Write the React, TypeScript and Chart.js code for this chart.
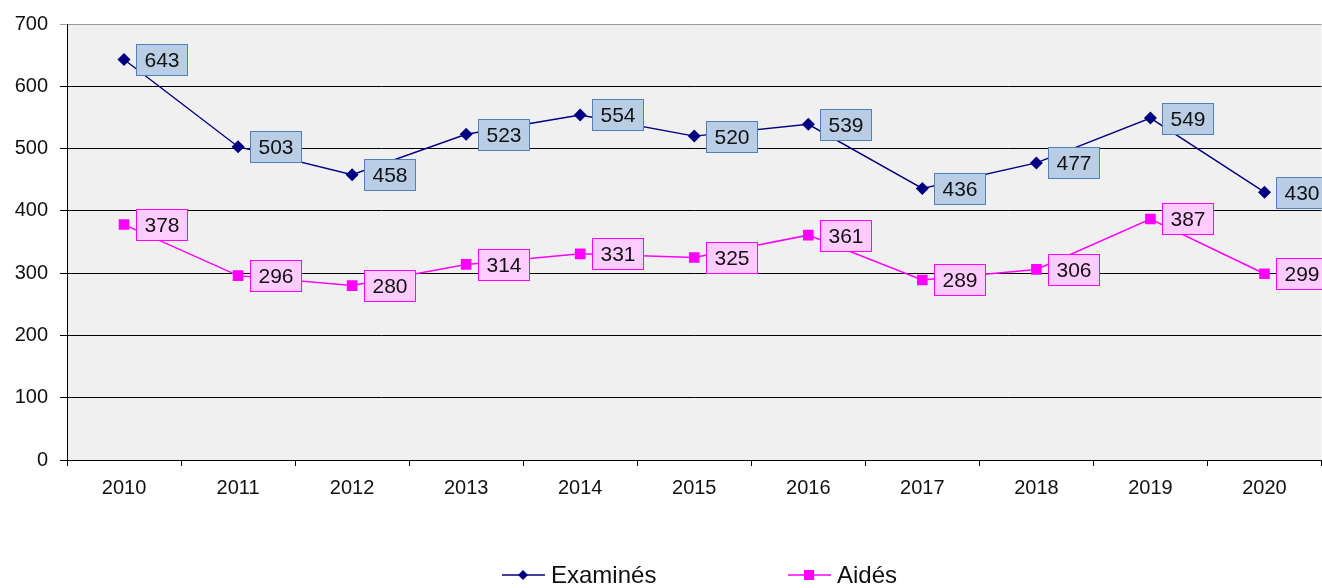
import React, { useEffect, useRef } from 'react';
import { Chart, registerables } from 'chart.js';
Chart.register(...registerables);

const years = ['2010', '2011', '2012', '2013', '2014', '2015', '2016', '2017', '2018', '2019', '2020'];
const examines = [643, 503, 458, 523, 554, 520, 539, 436, 477, 549, 430];
const aides = [378, 296, 280, 314, 331, 325, 361, 289, 306, 387, 299];
const seriesNames = ['Examinés', 'Aidés'];

const FONT = '"Liberation Sans", Arial, sans-serif';
const NAVY = '#000080';
const MAGENTA = '#ff00ff';
const labelStyles = [
  { fill: '#b9cde5', border: '#4f81bd' },
  { fill: '#ffccff', border: '#ff00ff' },
];

const bgPlugin = {
  id: 'plotBg',
  beforeDraw(chart: any) {
    const { ctx, chartArea } = chart;
    ctx.save();
    ctx.fillStyle = '#f0f0f0';
    ctx.fillRect(chartArea.left, chartArea.top, chartArea.right - chartArea.left, chartArea.bottom - chartArea.top);
    ctx.restore();
  },
};

const boxLabelPlugin = {
  id: 'boxLabels',
  afterDatasetsDraw(chart: any) {
    const ctx = chart.ctx;
    ctx.save();
    ctx.font = `21px ${FONT}`;
    chart.data.datasets.forEach((ds: any, i: number) => {
      const meta = chart.getDatasetMeta(i);
      const st = labelStyles[i];
      meta.data.forEach((pt: any, j: number) => {
        const txt = String(ds.data[j]);
        const w = Math.round(ctx.measureText(txt).width + 16);
        const h = 31;
        const x0 = Math.round(pt.x + 12) + 0.5;
        const y0 = Math.round(pt.y - h / 2) + 0.5;
        ctx.fillStyle = st.fill;
        ctx.fillRect(x0, y0, w, h);
        ctx.strokeStyle = st.border;
        ctx.lineWidth = 1;
        ctx.strokeRect(x0, y0, w, h);
        ctx.fillStyle = '#111';
        ctx.textAlign = 'center';
        ctx.textBaseline = 'middle';
        ctx.fillText(txt, x0 + w / 2, y0 + h / 2 + 1);
      });
    });
    ctx.restore();
  },
};

const legendPlugin = {
  id: 'customLegend',
  afterDraw(chart: any) {
    const ctx = chart.ctx;
    const y = 575;
    const items = [
      { x: 502, color: NAVY, shape: 'diamond', text: seriesNames[0] },
      { x: 788, color: MAGENTA, shape: 'square', text: seriesNames[1] },
    ];
    ctx.save();
    items.forEach((it) => {
      ctx.strokeStyle = it.color;
      ctx.lineWidth = 1.5;
      ctx.beginPath();
      ctx.moveTo(it.x, y);
      ctx.lineTo(it.x + 43, y);
      ctx.stroke();
      const cx = it.x + 21;
      ctx.fillStyle = it.color;
      if (it.shape === 'diamond') {
        ctx.beginPath();
        ctx.moveTo(cx, y - 5);
        ctx.lineTo(cx + 5, y);
        ctx.lineTo(cx, y + 5);
        ctx.lineTo(cx - 5, y);
        ctx.closePath();
        ctx.fill();
      } else {
        ctx.fillRect(cx - 5, y - 5, 10, 10);
      }
      ctx.fillStyle = '#111';
      ctx.font = `24px ${FONT}`;
      ctx.textAlign = 'left';
      ctx.textBaseline = 'middle';
      ctx.fillText(it.text, it.x + 49, y + 1);
    });
    ctx.restore();
  },
};

export default function App() {
  const ref = useRef<HTMLCanvasElement>(null);
  useEffect(() => {
    if (!ref.current) return;
    const chart = new Chart(ref.current, {
      type: 'line',
      data: {
        labels: years,
        datasets: [
          {
            label: seriesNames[0],
            data: examines,
            borderColor: NAVY,
            backgroundColor: NAVY,
            borderWidth: 1.4,
            pointStyle: 'rectRot',
            pointRadius: 6.5,
            pointBorderWidth: 0,
            tension: 0,
          },
          {
            label: seriesNames[1],
            data: aides,
            borderColor: MAGENTA,
            backgroundColor: MAGENTA,
            borderWidth: 1.5,
            pointStyle: 'rect',
            pointRadius: 7.5,
            pointBorderWidth: 0,
            tension: 0,
          },
        ],
      },
      options: {
        responsive: false,
        animation: false,
        layout: { padding: { top: 24, right: 2, left: 0, bottom: 0 } },
        plugins: { legend: { display: false }, tooltip: { enabled: false } },
        scales: {
          x: {
            offset: true,
            grid: { offset: true, drawOnChartArea: false, drawTicks: true, tickLength: 6, color: '#000' },
            border: { display: true, color: '#000' },
            ticks: { color: '#111', font: { family: FONT, size: 20 }, padding: 10, maxRotation: 0 },
            afterFit: (s: any) => { s.height = 128; s.paddingLeft = 0; s.paddingRight = 0; },
          },
          y: {
            min: 0,
            max: 700,
            ticks: { stepSize: 100, color: '#111', font: { family: FONT, size: 20 }, padding: 12 },
            grid: {
              color: (c: any) => (c.tick && c.tick.value === 700 ? '#999' : '#000'),
              tickLength: 7,
              lineWidth: 1,
            },
            border: { display: true, color: '#000' },
            afterFit: (s: any) => { s.width = 67; s.paddingTop = 0; s.paddingBottom = 0; },
          },
        },
      },
      plugins: [bgPlugin, boxLabelPlugin, legendPlugin],
    });
    return () => chart.destroy();
  }, []);
  return (
    <div style={{ position: 'absolute', left: 0, top: 0, width: 1322, height: 588, overflow: 'hidden' }}>
      <canvas ref={ref} width={1329} height={588} style={{ display: 'block' }} />
    </div>
  );
}
